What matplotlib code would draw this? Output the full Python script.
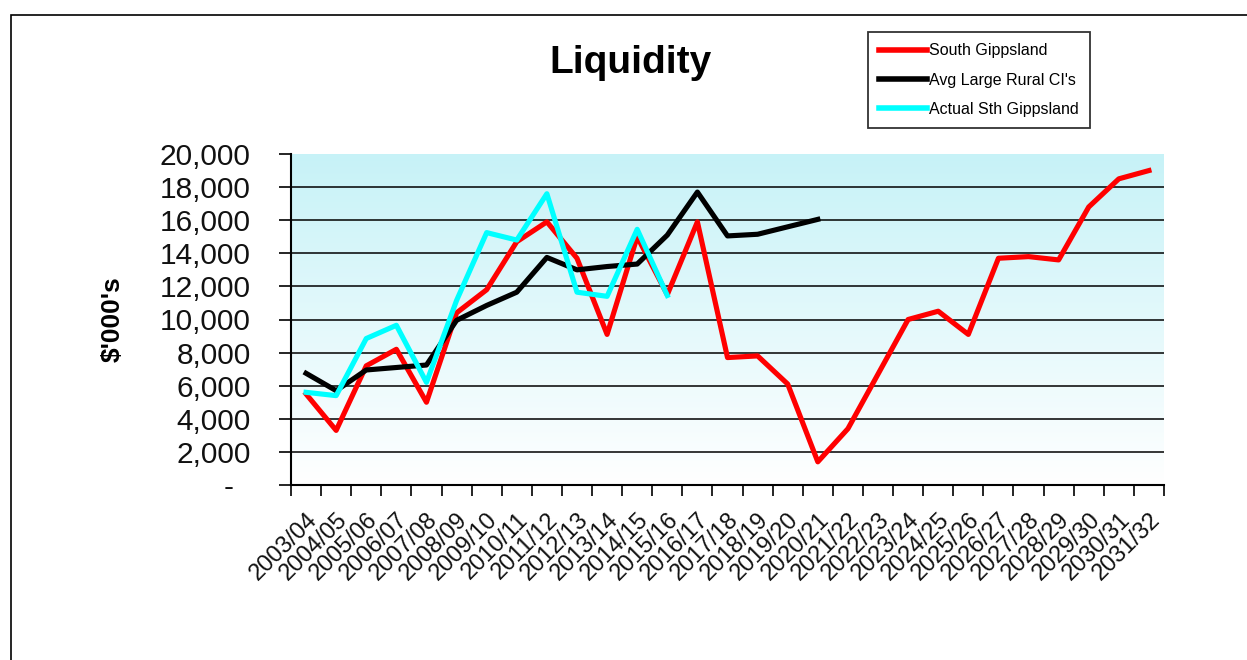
import numpy as np
import matplotlib
matplotlib.use('Agg')
import matplotlib.pyplot as plt
from matplotlib.patches import Rectangle
from matplotlib.ticker import FixedLocator

plt.rcParams['font.family'] = ['Liberation Sans', 'DejaVu Sans']

# Financial years
years = ['2003/04', '2004/05', '2005/06', '2006/07', '2007/08', '2008/09', '2009/10',
         '2010/11', '2011/12', '2012/13', '2013/14', '2014/15', '2015/16', '2016/17',
         '2017/18', '2018/19', '2019/20', '2020/21', '2021/22', '2022/23', '2023/24',
         '2024/25', '2025/26', '2026/27', '2027/28', '2028/29', '2029/30', '2030/31',
         '2031/32']

# Liquidity ($'000s)
south_gippsland = [5500, 3300, 7200, 8200, 5000, 10400, 11800, 14700, 15900, 13700,
                   9100, 15000, 11500, 15900, 7700, 7800, 6100, 1400, 3400, 6700,
                   10000, 10500, 9100, 13700, 13800, 13600, 16800, 18500, 19000]
avg_large_rural = [6750, 5700, 6950, 7100, 7250, 9950, 10850, 11650, 13750, 13000,
                   13200, 13350, 15100, 17700, 15050, 15150, 15600, 16050]
actual_sth_gippsland = [5600, 5400, 8850, 9650, 6200, 11150, 15250, 14800, 17600,
                        11650, 11400, 15450, 11450]

y_ticks = list(range(0, 20001, 2000))

fig = plt.figure(figsize=(12.47, 6.6), dpi=100)

# outer chart border (clipped by the image on right/bottom)
fig.patches.append(Rectangle((11 / 1247, -0.1), 1.2, (660 - 15) / 660 + 0.1,
                             transform=fig.transFigure, fill=False,
                             edgecolor='black', linewidth=1.2))

ax = fig.add_axes([291 / 1247, 1 - 485 / 660, 873 / 1247, 331 / 660])

# gradient background of the plot area
grad = np.linspace(1, 0, 256).reshape(-1, 1)
top = np.array([0.78, 0.95, 0.97])
bottom = np.array([1.0, 1.0, 1.0])
img = bottom + (top - bottom) * grad[..., None]
ax.imshow(img, extent=[-0.5, len(years) - 0.5, 0, 20000], aspect='auto', zorder=0)

for v in y_ticks[1:-1]:
    ax.axhline(v, color='black', linewidth=1.1, zorder=1)

x = np.arange(len(years))
ax.plot(x, south_gippsland, color='#ff0000', linewidth=3.7, label='South Gippsland',
        zorder=3)
ax.plot(x[:len(avg_large_rural)], avg_large_rural, color='black', linewidth=3.7,
        label="Avg Large Rural CI's", zorder=3)
ax.plot(x[:len(actual_sth_gippsland)], actual_sth_gippsland, color='#00ffff',
        linewidth=3.7, label='Actual Sth Gippsland', zorder=4)

ax.set_xlim(-0.5, len(years) - 0.5)
ax.set_ylim(0, 20000)

ax.set_yticks(y_ticks)
ax.set_yticklabels(['-  '] + [f'{v:,}' for v in y_ticks[1:]],
                   fontsize=21.5, color='#111111')
ax.tick_params(axis='y', direction='out', length=9, width=1.2, pad=20)

ax.set_xticks(x)
ax.set_xticklabels(years, rotation=45, ha='right', rotation_mode='anchor', fontsize=17,
                   color='#111111')
ax.tick_params(axis='x', which='major', length=0, pad=17)
ax.xaxis.set_minor_locator(FixedLocator(np.arange(-0.5, len(years), 1)))
ax.tick_params(axis='x', which='minor', direction='out', length=8, width=1.2)

for side in ['top', 'right']:
    ax.spines[side].set_visible(False)
for side in ['left', 'bottom']:
    ax.spines[side].set_linewidth(1.5)
    ax.spines[side].set_zorder(5)

ax.set_ylabel("$'000's", fontsize=19, fontweight='bold')
ax.yaxis.set_label_coords(-0.19, 0.5)

fig.text(631 / 1247, 1 - 73 / 660, 'Liquidity', ha='center', va='baseline',
         fontsize=28, fontweight='bold')

leg = fig.legend(loc='upper left', bbox_to_anchor=(868 / 1247, 1 - 32 / 660),
                 fontsize=11.5, frameon=True, fancybox=False, handlelength=3.0,
                 handletextpad=0.1, labelspacing=0.9, borderpad=0.7,
                 borderaxespad=0)
leg.get_frame().set_edgecolor('black')
leg.get_frame().set_linewidth(1.3)
for line in leg.get_lines():
    line.set_linewidth(4)

fig.savefig('out.png', dpi=100)
